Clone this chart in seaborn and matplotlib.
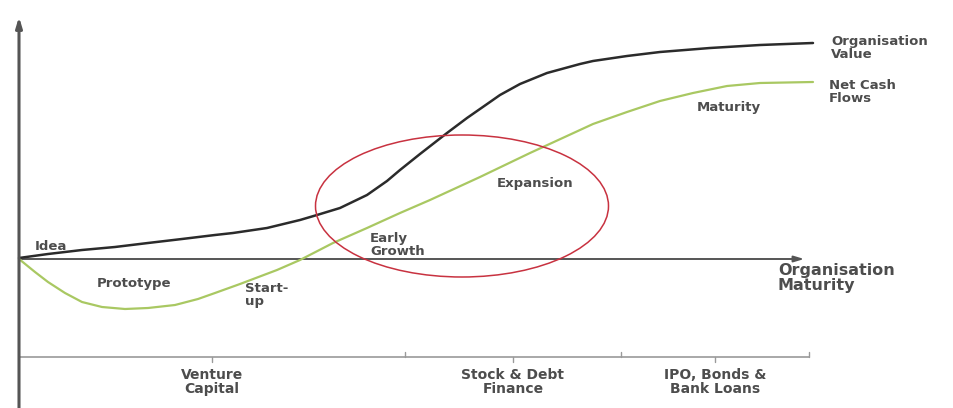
import numpy as np
import pandas as pd
import matplotlib
matplotlib.use("Agg")
import matplotlib.pyplot as plt
from matplotlib.patches import Ellipse
import seaborn as sns

# ---- data ----
value_x = [0, 29, 63, 96, 129, 163, 196, 214, 248, 281, 298, 321, 348, 368, 381, 401, 428, 448,
           471, 481, 501, 528, 561, 574, 608, 641, 691, 741, 794]
value_y = [1, 5, 9, 12, 16, 20, 24, 26, 31, 39, 44, 51, 64, 78, 89, 105, 126, 141,
           157, 164, 175, 186, 195, 198, 203, 207, 211, 214, 216]

cash_x = [0, 16, 29, 46, 63, 83, 106, 129, 156, 179, 196, 221, 258, 281, 314, 348, 381, 411,
          461, 511, 561, 574, 608, 641, 674, 708, 741, 794]
cash_y = [0, -13, -23, -34, -43, -48, -50, -49, -46, -40, -34, -25, -11, -1, 16, 31, 46, 59,
          82, 106, 129, 135, 147, 158, 166, 173, 176, 177]

stage_labels = ["Idea", "Prototype", "Start-\nup", "Early\nGrowth", "Expansion", "Maturity"]
finance_labels = ["Venture\nCapital", "Stock & Debt\nFinance", "IPO, Bonds &\nBank Loans"]
finance_bounds = [0, 386, 602, 790]
series_labels = ["Organisation\nValue", "Net Cash\nFlows"]
x_axis_label = "Organisation\nMaturity"

# ---- figure ----
sns.set_theme(style="white")
plt.rcParams["font.family"] = ["DejaVu Sans"]

fig = plt.figure(figsize=(9.54, 4.08), dpi=100)
ax = fig.add_axes([0, 0, 1, 1])
ax.set_xlim(-19, 935)
ax.set_ylim(-149, 259)
ax.axis("off")

txt = "#4d4d4d"

df_v = pd.DataFrame({"x": value_x, "y": value_y})
df_c = pd.DataFrame({"x": cash_x, "y": cash_y})
sns.lineplot(data=df_v, x="x", y="y", ax=ax, color="#2b2b2b", lw=1.8, sort=False, zorder=3)
sns.lineplot(data=df_c, x="x", y="y", ax=ax, color="#a9c862", lw=1.6, sort=False, zorder=3)

# axes with arrows
ax.annotate("", xy=(0, 245), xytext=(0, -152),
            arrowprops=dict(arrowstyle="-|>,head_length=0.5,head_width=0.15", color="#555555", lw=2.2))
ax.annotate("", xy=(788, 0), xytext=(0, 0),
            arrowprops=dict(arrowstyle="-|>,head_length=0.5,head_width=0.15", color="#555555", lw=1.4),
            zorder=2)

# ellipse highlight
ax.add_patch(Ellipse((443, 53), 293, 142, fill=False, edgecolor="#c83240", lw=1.1, zorder=4))

fs = 9.5
# stage labels
stage_pos = [(16, 13), (78, -25), (226, -36), (351, 14), (478, 76), (678, 151)]
for lab, (sx, sy) in zip(stage_labels, stage_pos):
    ax.text(sx, sy, lab, ha="left", va="center", fontsize=fs, fontweight="bold",
            color=txt, linespacing=0.95)

# series labels
ax.text(812, 211, series_labels[0], ha="left", va="center", fontsize=fs, fontweight="bold",
        color=txt, linespacing=0.95)
ax.text(810, 167, series_labels[1], ha="left", va="center", fontsize=fs, fontweight="bold",
        color=txt, linespacing=0.95)
ax.text(759, -19, x_axis_label, ha="left", va="center", fontsize=11.5, fontweight="bold",
        color=txt, linespacing=0.95)

# finance brackets
by = -98
bc = "#9a9a9a"
ax.plot([finance_bounds[0], finance_bounds[-1]], [by, by], color=bc, lw=1.2)
for b in finance_bounds[1:]:
    ax.plot([b, b], [by, by + 5], color=bc, lw=1.0)
for i, lab in enumerate(finance_labels):
    lo = finance_bounds[i]
    hi = finance_bounds[i + 1]
    cx = (lo + hi) / 2 if i > 0 else 193
    ax.plot([cx, cx], [by, by - 5], color=bc, lw=1.0)
    ax.text(cx, by - 25, lab, ha="center", va="center", fontsize=10, fontweight="bold",
            color=txt, linespacing=1.0)

fig.savefig("out.png", dpi=100, facecolor="white")
